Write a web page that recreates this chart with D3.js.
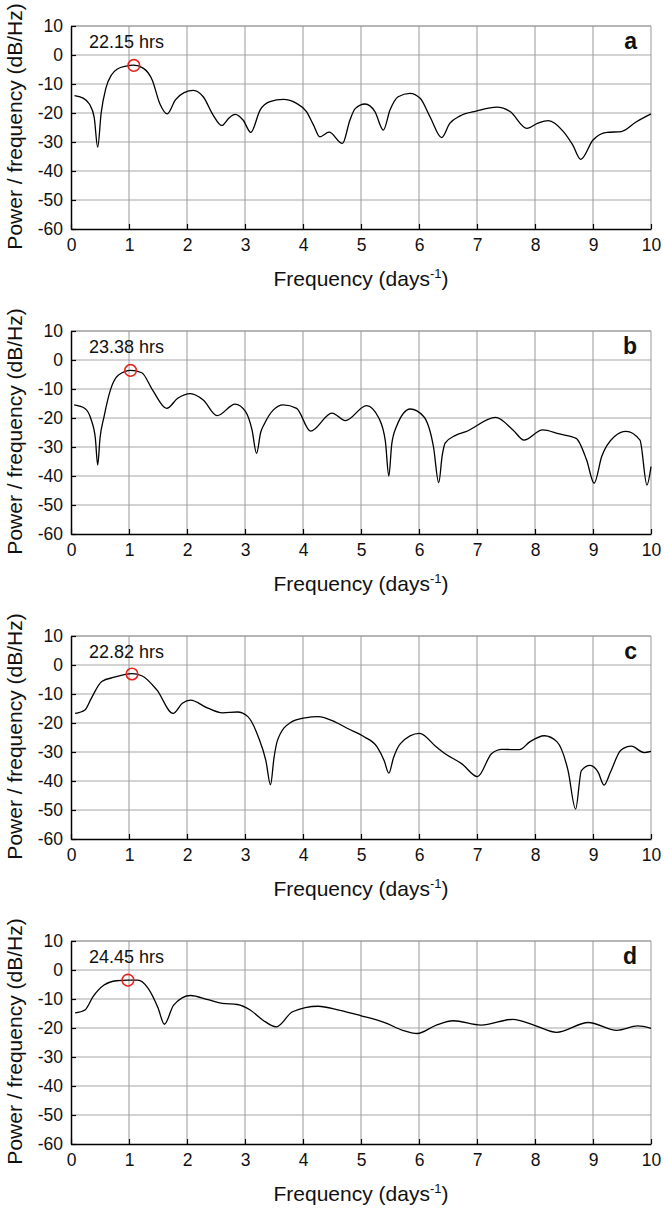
<!DOCTYPE html>
<html>
<head>
<meta charset="utf-8">
<script src="https://cdn.jsdelivr.net/npm/d3@7"></script>
<style>
  body { margin: 0; background: #fff; }
  svg text { font-family: "Liberation Sans", Arial, Helvetica, sans-serif; fill: #111; }
</style>
</head>
<body>
<div id="root"></div>
<script>
// spectra: [frequency (1/day), power (dB/Hz)]
const specA = [[0.06,-14.0],[0.2,-14.8],[0.32,-17],[0.4,-21.5],[0.46,-31.8],[0.52,-20],[0.6,-11.5],[0.7,-6.8],[0.8,-4.8],[0.95,-3.8],[1.08,-3.5],[1.25,-4.6],[1.4,-8.6],[1.53,-16.7],[1.66,-20.3],[1.8,-15.5],[1.95,-13.0],[2.11,-12.2],[2.28,-14.4],[2.45,-20.7],[2.6,-24.3],[2.72,-21.8],[2.83,-20.5],[2.97,-22.5],[3.1,-26.7],[3.26,-19.0],[3.43,-16.1],[3.66,-15.3],[3.89,-16.7],[4.06,-19.5],[4.18,-24.1],[4.29,-28.2],[4.45,-26.6],[4.68,-30.5],[4.81,-22.4],[4.9,-18.5],[5.07,-16.9],[5.24,-19.5],[5.385,-25.9],[5.5,-19.0],[5.64,-14.4],[5.845,-13.2],[6.02,-14.9],[6.19,-21.3],[6.39,-28.5],[6.53,-23.6],[6.71,-21.0],[7.0,-19.3],[7.34,-18.0],[7.57,-19.5],[7.86,-25.3],[8.05,-23.5],[8.23,-22.6],[8.49,-26.4],[8.65,-31],[8.79,-36.0],[9.0,-29.3],[9.24,-26.7],[9.49,-26.4],[9.75,-23.0],[10,-20.3]];
const specB = [[0.055,-15.5],[0.24,-16.7],[0.35,-20.7],[0.42,-27],[0.46,-36.2],[0.5,-27],[0.57,-19.5],[0.68,-10.3],[0.82,-5.2],[1.03,-3.6],[1.22,-4.4],[1.405,-10.3],[1.65,-16.7],[1.84,-13.2],[2.06,-11.6],[2.28,-13.8],[2.52,-19.2],[2.83,-15.2],[3.01,-17.8],[3.12,-24],[3.2,-32.2],[3.27,-25],[3.34,-21.8],[3.49,-17.2],[3.66,-15.5],[3.89,-16.7],[4.13,-24.5],[4.5,-18.3],[4.73,-20.9],[5.095,-15.7],[5.31,-20.1],[5.42,-28],[5.48,-40.0],[5.53,-29],[5.61,-23.0],[5.85,-16.9],[6.08,-19.5],[6.25,-30],[6.34,-42.3],[6.4,-33],[6.45,-28.7],[6.63,-26.0],[6.81,-24.7],[7.32,-19.8],[7.62,-24.1],[7.81,-27.6],[8.13,-24.1],[8.42,-25.5],[8.71,-27.0],[8.89,-34.5],[9.02,-42.5],[9.15,-33.3],[9.37,-26.4],[9.57,-24.6],[9.81,-27.6],[9.93,-43.1],[10,-36.8]];
const specC = [[0.07,-16.7],[0.24,-15.5],[0.35,-11.5],[0.53,-5.7],[0.75,-4.2],[1.05,-3.0],[1.22,-3.7],[1.48,-8.6],[1.76,-16.7],[1.92,-13.2],[2.06,-12.1],[2.36,-14.9],[2.61,-16.5],[2.87,-16.2],[3.05,-17.8],[3.23,-24.8],[3.36,-33],[3.44,-41.3],[3.5,-32],[3.56,-26.0],[3.78,-19.9],[4.04,-18.2],[4.26,-17.8],[4.55,-19.6],[4.77,-21.9],[5.06,-24.8],[5.28,-28.3],[5.4,-33],[5.48,-37.3],[5.56,-32],[5.68,-27.1],[6.01,-23.6],[6.3,-28.3],[6.45,-30.6],[6.74,-34.1],[7.01,-38.5],[7.25,-30.6],[7.43,-29.1],[7.73,-29.2],[7.91,-26.5],[8.16,-24.4],[8.38,-26.5],[8.57,-36.4],[8.7,-49.7],[8.8,-36.4],[8.95,-34.6],[9.09,-37.0],[9.19,-41.4],[9.3,-37.0],[9.48,-29.4],[9.66,-28.0],[9.88,-30.2],[10,-29.8]];
const specD = [[0.07,-14.8],[0.24,-13.8],[0.38,-9.2],[0.57,-5.2],[0.785,-3.7],[0.98,-3.5],[1.15,-3.5],[1.33,-6.3],[1.5,-13],[1.61,-18.7],[1.77,-12.1],[2.06,-8.8],[2.36,-10.2],[2.61,-11.5],[2.87,-11.9],[3.09,-13.8],[3.31,-17.3],[3.54,-19.6],[3.82,-14.4],[4.26,-12.5],[4.62,-13.8],[4.99,-15.7],[5.42,-18.2],[5.72,-20.8],[5.97,-21.9],[6.3,-19.0],[6.59,-17.5],[7.07,-19.0],[7.62,-17.0],[7.98,-19.0],[8.37,-21.5],[8.92,-18.1],[9.41,-20.8],[9.77,-19.3],[10,-20.1]];

const letters = ["a", "b", "c", "d"];
const periods = [22.15, 23.38, 22.82, 24.45];   // hrs, peak marked with red circle
const peakDb = [-3.6, -3.6, -3.1, -3.5];
const xTicks = [0, 1, 2, 3, 4, 5, 6, 7, 8, 9, 10];
const yTicks = [10, 0, -10, -20, -30, -40, -50, -60];

const W = 664, H = 1208;
const left = 71, pw = 580, ph = 203, step = 305, top0 = 26;

var svg = d3.select("#root").append("svg").attr("width", W).attr("height", H);

var x = d3.scaleLinear().domain([0, 10]).range([left, left + pw]);
var y = d3.scaleLinear().domain([-60, 10]).range([ph, 0]);

var line = d3.line()
  .x(d => x(d[0]))
  .y(d => y(d[1]))
  .curve(d3.curveMonotoneX);

[specA, specB, specC, specD].forEach(function(spec, i) {
  var g = svg.append("g").attr("transform", "translate(0," + (top0 + i * step) + ")");

  // horizontal grid (light, a bit thicker)
  g.selectAll(".hg").data(yTicks.filter(t => t > -60)).enter().append("line")
    .attr("x1", left).attr("x2", left + pw)
    .attr("y1", d => y(d)).attr("y2", d => y(d))
    .style("stroke", "#c4c4c4").style("stroke-width", 1.6);
  // vertical grid
  g.selectAll(".vg").data(xTicks.filter(t => t > 0)).enter().append("line")
    .attr("x1", d => x(d)).attr("x2", d => x(d))
    .attr("y1", 0).attr("y2", ph)
    .style("stroke", "#999").style("stroke-width", 1);
  g.append("line").attr("x1", left).attr("x2", left + pw).attr("y1", 0).attr("y2", 0)
    .style("stroke", "#999").style("stroke-width", 1);

  // axes, ticks pointing inward
  var xa = g.append("g").attr("transform", "translate(0," + ph + ")")
    .call(d3.axisBottom(x).tickValues(xTicks).tickSizeInner(-5).tickSizeOuter(0).tickPadding(4).tickFormat(d3.format("d")));
  var ya = g.append("g").attr("transform", "translate(" + left + ",0)")
    .call(d3.axisLeft(y).tickValues(yTicks).tickSizeInner(-5).tickSizeOuter(0).tickPadding(8).tickFormat(d => d < 0 ? "-" + Math.abs(d) : d));
  [xa, ya].forEach(function(a) {
    a.select(".domain").style("stroke", "#000").style("stroke-width", 1.5);
    a.selectAll(".tick line").style("stroke", "#000").style("stroke-width", 1.2);
    a.selectAll(".tick text").style("font-size", "17.5px").style("fill", "#111");
  });
  xa.selectAll(".tick text").attr("dy", "18px");

  // spectrum
  g.append("path").datum(spec).attr("d", line)
    .style("fill", "none").style("stroke", "#000").style("stroke-width", 1.3);

  // peak marker
  var pf = 24 / periods[i];
  g.append("circle").attr("cx", x(pf)).attr("cy", y(peakDb[i])).attr("r", 5.8)
    .style("fill", "none").style("stroke", "#e8231c").style("stroke-width", 1.6);
  g.append("text").attr("x", left + 18).attr("y", 22)
    .style("font-size", "18px").text(periods[i].toFixed(2) + " hrs");

  g.append("text").attr("x", left + pw - 14).attr("y", 23).attr("text-anchor", "end")
    .style("font-size", "23px").style("font-weight", "bold").text(letters[i]);

  // axis titles
  var xt = g.append("text").attr("x", left + pw / 2).attr("y", ph + 57)
    .attr("text-anchor", "middle").style("font-size", "21px");
  xt.append("tspan").text("Frequency (days");
  xt.append("tspan").attr("dy", -8).style("font-size", "13px").text("-1");
  xt.append("tspan").attr("dy", 8).text(")");

  g.append("text").attr("transform", "translate(22," + (ph / 2 - 1) + ") rotate(-90)")
    .attr("text-anchor", "middle").style("font-size", "21px")
    .text("Power / frequency (dB/Hz)");
});
</script>
</body>
</html>
